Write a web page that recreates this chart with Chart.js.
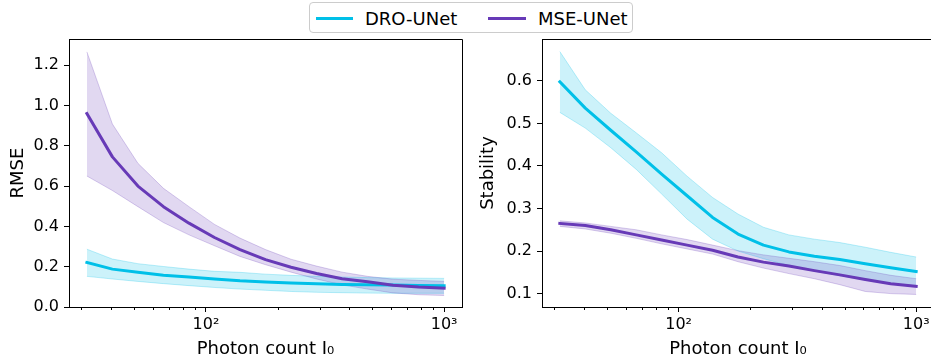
<!DOCTYPE html>
<html>
<head>
<meta charset="utf-8">
<script src="https://cdn.jsdelivr.net/npm/chart.js@4"></script>
<style>
  html, body { margin: 0; padding: 0; background: #fff; overflow: hidden; }
  body { width: 931px; height: 362px; position: relative; font-family: 'DejaVu Sans', sans-serif; }
  .panel { position: absolute; top: 0; width: 470px; height: 362px; }
  #legend { position: absolute; left: 309px; top: 2px; width: 322px; height: 29px;
            border: 1px solid #cccccc; border-radius: 4px; background: #fff; }
  .swatch { position: absolute; height: 3px; top: 14px; }
  .label { position: absolute; top: 5px; font-size: 18px; line-height: 21px; color: #000; white-space: nowrap; }
</style>
</head>
<body>
<div class="panel" style="left:0"><canvas id="rmseChart" width="470" height="362"></canvas></div>
<div class="panel" style="left:470px"><canvas id="stabChart" width="470" height="362"></canvas></div>
<div id="legend">
  <div class="swatch" style="left:6px;width:37px;background:#00c0e8"></div>
  <div class="label" style="left:55px">DRO-UNet</div>
  <div class="swatch" style="left:178px;width:38px;background:#673ab7"></div>
  <div class="label" style="left:228px">MSE-UNet</div>
</div>
<script>
// photon counts (log spaced)
const xValues = [31.62, 40.47, 51.79, 66.29, 84.83, 108.57, 138.95, 177.83, 227.58, 291.26, 372.76, 477.06, 610.54, 781.37, 1000];
const xTickValues = [100, 1000];
const xTickLabels = ['10²', '10³'];
const xMinorTicks = [30, 40, 50, 60, 70, 80, 90, 200, 300, 400, 500, 600, 700, 800, 900];

// RMSE panel
const rmseTicks = [0, 0.2, 0.4, 0.6, 0.8, 1.0, 1.2];
const droRmse      = [0.221, 0.188, 0.172, 0.158, 0.149, 0.139, 0.130, 0.124, 0.119, 0.116, 0.112, 0.110, 0.109, 0.107, 0.106];
const droRmseUpper = [0.287, 0.238, 0.215, 0.201, 0.188, 0.177, 0.172, 0.163, 0.157, 0.152, 0.149, 0.146, 0.144, 0.143, 0.142];
const droRmseLower = [0.152, 0.139, 0.127, 0.116, 0.106, 0.097, 0.089, 0.083, 0.077, 0.073, 0.071, 0.069, 0.068, 0.068, 0.068];
const mseRmse      = [0.960, 0.745, 0.600, 0.498, 0.416, 0.345, 0.285, 0.235, 0.197, 0.166, 0.140, 0.125, 0.108, 0.099, 0.093];
const mseRmseUpper = [1.266, 0.908, 0.713, 0.589, 0.498, 0.410, 0.342, 0.285, 0.237, 0.203, 0.173, 0.152, 0.138, 0.132, 0.127];
const mseRmseLower = [0.650, 0.578, 0.498, 0.419, 0.358, 0.304, 0.251, 0.210, 0.173, 0.139, 0.110, 0.089, 0.070, 0.061, 0.057];

// Stability panel
const stabTicks = [0.1, 0.2, 0.3, 0.4, 0.5, 0.6];
const droStab      = [0.598, 0.536, 0.484, 0.433, 0.381, 0.330, 0.279, 0.240, 0.214, 0.198, 0.188, 0.180, 0.170, 0.161, 0.152];
const droStabUpper = [0.669, 0.579, 0.524, 0.478, 0.431, 0.376, 0.326, 0.287, 0.256, 0.238, 0.228, 0.220, 0.209, 0.197, 0.186];
const droStabLower = [0.526, 0.489, 0.443, 0.392, 0.334, 0.275, 0.228, 0.200, 0.182, 0.166, 0.153, 0.142, 0.132, 0.124, 0.118];
const mseStab      = [0.265, 0.260, 0.250, 0.238, 0.226, 0.214, 0.202, 0.186, 0.174, 0.165, 0.154, 0.144, 0.133, 0.123, 0.117];
const mseStabUpper = [0.271, 0.266, 0.258, 0.250, 0.238, 0.227, 0.214, 0.201, 0.191, 0.183, 0.175, 0.166, 0.154, 0.143, 0.135];
const mseStabLower = [0.258, 0.252, 0.242, 0.230, 0.217, 0.205, 0.193, 0.175, 0.160, 0.147, 0.135, 0.121, 0.105, 0.100, 0.098];

const DRO = [0, 192, 232];
const MSE = [103, 58, 183];
const rgba = (c, a) => `rgba(${c[0]},${c[1]},${c[2]},${a})`;
const pts = arr => arr.map((y, i) => ({ x: xValues[i], y: y }));

Chart.defaults.font.family = "'DejaVu Sans', sans-serif";
Chart.defaults.color = '#000';

// top/right spines and minor log ticks
const framePlugin = {
    id: 'frame',
    afterDraw(chart) {
        const { ctx, chartArea: a } = chart;
        const x = chart.scales.x;
        ctx.save();
        ctx.strokeStyle = '#000';
        ctx.lineWidth = 1;
        ctx.beginPath();
        ctx.moveTo(Math.round(a.left) + 0.5, Math.round(a.top) + 0.5);
        ctx.lineTo(Math.round(a.right) + 0.5, Math.round(a.top) + 0.5);
        ctx.lineTo(Math.round(a.right) + 0.5, Math.round(a.bottom) + 0.5);
        xMinorTicks.forEach(v => {
            const px = Math.round(x.getPixelForValue(v)) + 0.5;
            if (px < a.left || px > a.right) return;
            ctx.moveTo(px, a.bottom);
            ctx.lineTo(px, a.bottom + 3);
        });
        ctx.stroke();
        ctx.restore();
    }
};

function bandSets(color, mean, upper, lower, meanOrder, bandOrder) {
    const common = { pointRadius: 0, tension: 0, borderColor: rgba(color, 0.25), borderWidth: 1 };
    return [
        Object.assign({ data: pts(upper), fill: '+1', backgroundColor: rgba(color, 0.2), order: bandOrder }, common),
        Object.assign({ data: pts(lower), fill: false, order: bandOrder }, common),
        { data: pts(mean), fill: false, borderColor: rgba(color, 1), borderWidth: 3, pointRadius: 0,
          tension: 0, borderJoinStyle: 'round', borderCapStyle: 'square', order: meanOrder }
    ];
}

function makeChart(id, opts) {
    const ctx = document.getElementById(id).getContext('2d');
    return new Chart(ctx, {
        type: 'line',
        data: {
            datasets: [
                ...bandSets(DRO, opts.dro, opts.droUp, opts.droLo, 1, 3),
                ...bandSets(MSE, opts.mse, opts.mseUp, opts.mseLo, 0, 2)
            ]
        },
        options: {
            responsive: false,
            animation: false,
            events: [],
            devicePixelRatio: 1,
            layout: { padding: { top: 39, right: opts.padRight, left: 0, bottom: 0 } },
            plugins: {
                legend: { display: false },
                tooltip: { enabled: false },
                filler: { propagate: false, drawTime: 'beforeDatasetsDraw' }
            },
            scales: {
                x: {
                    type: 'logarithmic',
                    bounds: 'data',
                    min: 26.6,
                    max: 1188.5,
                    afterBuildTicks: s => { s.ticks = xTickValues.map(v => ({ value: v })); },
                    afterFit: s => { s.height = 55; },
                    ticks: {
                        autoSkip: false,
                        maxRotation: 0,
                        padding: 3,
                        font: { size: 16 },
                        callback: v => xTickLabels[xTickValues.indexOf(v)]
                    },
                    grid: { drawOnChartArea: false, drawTicks: true, tickLength: 5, color: '#000' },
                    border: { display: true, color: '#000', width: 1 },
                    title: { display: true, text: 'Photon count I₀', font: { size: 18 }, padding: { top: 0, bottom: 2 } }
                },
                y: {
                    min: opts.yMin,
                    max: opts.yMax,
                    afterBuildTicks: s => { s.ticks = opts.yTicks.map(v => ({ value: v })); },
                    afterFit: s => { s.width = opts.yWidth; },
                    ticks: { padding: 5, font: { size: 16 }, callback: v => v.toFixed(1) },
                    grid: { drawOnChartArea: false, drawTicks: true, tickLength: 5, color: '#000' },
                    border: { display: true, color: '#000', width: 1 },
                    title: { display: true, text: opts.yTitle, font: { size: 18 }, padding: { top: 8, bottom: 0 } }
                }
            }
        },
        plugins: [framePlugin]
    });
}

makeChart('rmseChart', {
    dro: droRmse, droUp: droRmseUpper, droLo: droRmseLower,
    mse: mseRmse, mseUp: mseRmseUpper, mseLo: mseRmseLower,
    yMin: 0, yMax: 1.33, yTicks: rmseTicks, yTitle: 'RMSE',
    yWidth: 69, padRight: 8
});

makeChart('stabChart', {
    dro: droStab, droUp: droStabUpper, droLo: droStabLower,
    mse: mseStab, mseUp: mseStabUpper, mseLo: mseStabLower,
    yMin: 0.0685, yMax: 0.6985, yTicks: stabTicks, yTitle: 'Stability',
    yWidth: 72, padRight: 6
});
</script>
</body>
</html>
